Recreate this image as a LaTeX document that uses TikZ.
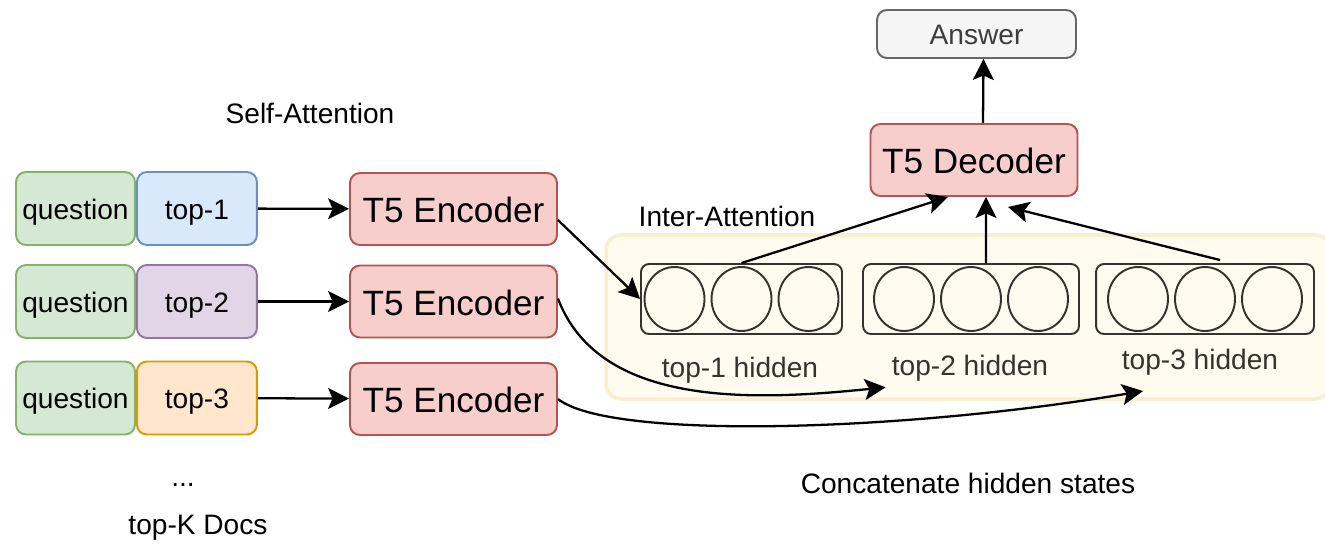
\documentclass[tikz,border=0pt]{standalone}
\usepackage{fontspec}
\setmainfont{Liberation Sans}
\usetikzlibrary{arrows.meta,positioning}

\definecolor{qfill}{HTML}{D5E8D4}\definecolor{qline}{HTML}{82B366}
\definecolor{bfill}{HTML}{DAE8FC}\definecolor{bline}{HTML}{6C8EBF}
\definecolor{pfill}{HTML}{E1D5E7}\definecolor{pline}{HTML}{9673A6}
\definecolor{ofill}{HTML}{FFE6CC}\definecolor{oline}{HTML}{D79B00}
\definecolor{rfill}{HTML}{F8CECC}\definecolor{rline}{HTML}{B85450}
\definecolor{gfill}{HTML}{F5F5F5}\definecolor{gline}{HTML}{666666}
\definecolor{yfill}{HTML}{FFFBEE}\definecolor{yline}{HTML}{F8EFD3}
\definecolor{hidden}{HTML}{36332E}

\tikzset{
  box/.style={draw, rounded corners=0.2cm, line width=1.1pt, inner sep=0pt,
    minimum height=1.46cm, text height=0.43cm, text depth=0cm,
    font=\fontsize{16}{19}\selectfont},
  qbox/.style={box, fill=qfill, draw=qline, minimum width=2.38cm},
  docbox/.style={box, minimum width=2.4cm},
  t5box/.style={box, fill=rfill, draw=rline, minimum width=4.14cm,
    minimum height=1.44cm, text height=0.54cm, font=\fontsize{20}{24}\selectfont},
  hidbox/.style={draw=hidden, rounded corners=0.16cm, line width=1.1pt,
    minimum height=1.4cm, inner sep=0pt},
  lbl/.style={font=\fontsize{16}{19}\selectfont},
  arr/.style={-{Stealth[length=0.42cm,width=0.42cm,inset=0.09cm]}, line width=1.3pt},
}

\begin{document}
\begin{tikzpicture}[x=0.02cm, y=-0.02cm]
  \useasboundingbox (0,0) rectangle (1325,545);

  % question + document pairs
  \node[qbox] (q1) at (75.5,208.5) {question};
  \node[qbox] (q2) at (75.5,301.5) {question};
  \node[qbox] (q3) at (75.5,398) {question};
  \node[docbox, fill=bfill, draw=bline, anchor=west] (d1) at (q1.east) {top-1};
  \node[docbox, fill=pfill, draw=pline, anchor=west] (d2) at (q2.east) {top-2};
  \node[docbox, fill=ofill, draw=oline, anchor=west] (d3) at (q3.east) {top-3};

  \node[lbl] (dots) at (183,485) {...};
  \node[lbl] (topk) at (198,528) {top-K Docs};
  \node[lbl] (self) at (310,113) {Self-Attention};

  % encoders
  \node[t5box] (e1) at (453.5,209) {T5 Encoder};
  \node[t5box] (e2) at (453.5,301.5) {T5 Encoder};
  \node[t5box] (e3) at (453.5,399) {T5 Encoder};

  \draw[arr] (d1) -- (e1);
  \draw[arr] (d2) -- (e2);
  \draw[arr] (d3) -- (e3);

  % concatenated hidden states
  \draw[fill=yfill, draw=yline, line width=2pt, rounded corners=0.3cm]
    (606,235) rectangle (1330,399);
  \node[lbl] (inter) at (727,216) {Inter-Attention};

  \node[hidbox, minimum width=4.02cm] (h1) at (741.5,299) {};
  \node[hidbox, minimum width=4.32cm] (h2) at (971,299) {};
  \node[hidbox, minimum width=4.36cm] (h3) at (1205,299) {};
  \foreach \cx in {741.5,971,1205}
    \foreach \dx in {-67,0,67}
      \draw[hidden, line width=1.1pt] (\cx+\dx,299) ellipse (0.6cm and 0.64cm);

  \node[lbl, text=hidden] (l1) at (740,370) {top-1 hidden};
  \node[lbl, text=hidden] (l2) at (970,368) {top-2 hidden};
  \node[lbl, text=hidden] (l3) at (1200,362) {top-3 hidden};
  \node[lbl] (concat) at (968,483) {Concatenate hidden states};
  \coordinate (c3) at (1143,391);

  \draw[arr] ([yshift=-0.22cm]e1.east) -- (h1.west);
  \draw[arr] ([yshift=0.06cm]e2.east) .. controls (600,410) and (760,400) .. (l2.south west);
  \draw[arr] (e3.east) .. controls (610,440) and (900,432) .. (c3);

  % decoder and answer
  \node[t5box] (dec) at (974,160) {T5 Decoder};
  \node[box, fill=gfill, draw=gline, text=gline!60!black, minimum width=3.98cm,
    minimum height=0.96cm] (ans) at (976.5,34) {Answer};

  \draw[arr] (h1.north) -- ([xshift=-0.52cm]dec.south);
  \draw[arr] ([xshift=0.3cm]h2.north) -- ([xshift=0.24cm]dec.south);
  \draw[arr] ([xshift=0.3cm,yshift=0.06cm]h3.north) -- ([xshift=0.68cm,yshift=-0.2cm]dec.south);
  \draw[arr] ([xshift=0.18cm]dec.north) -- ([xshift=0.14cm]ans.south);
\end{tikzpicture}
\end{document}
